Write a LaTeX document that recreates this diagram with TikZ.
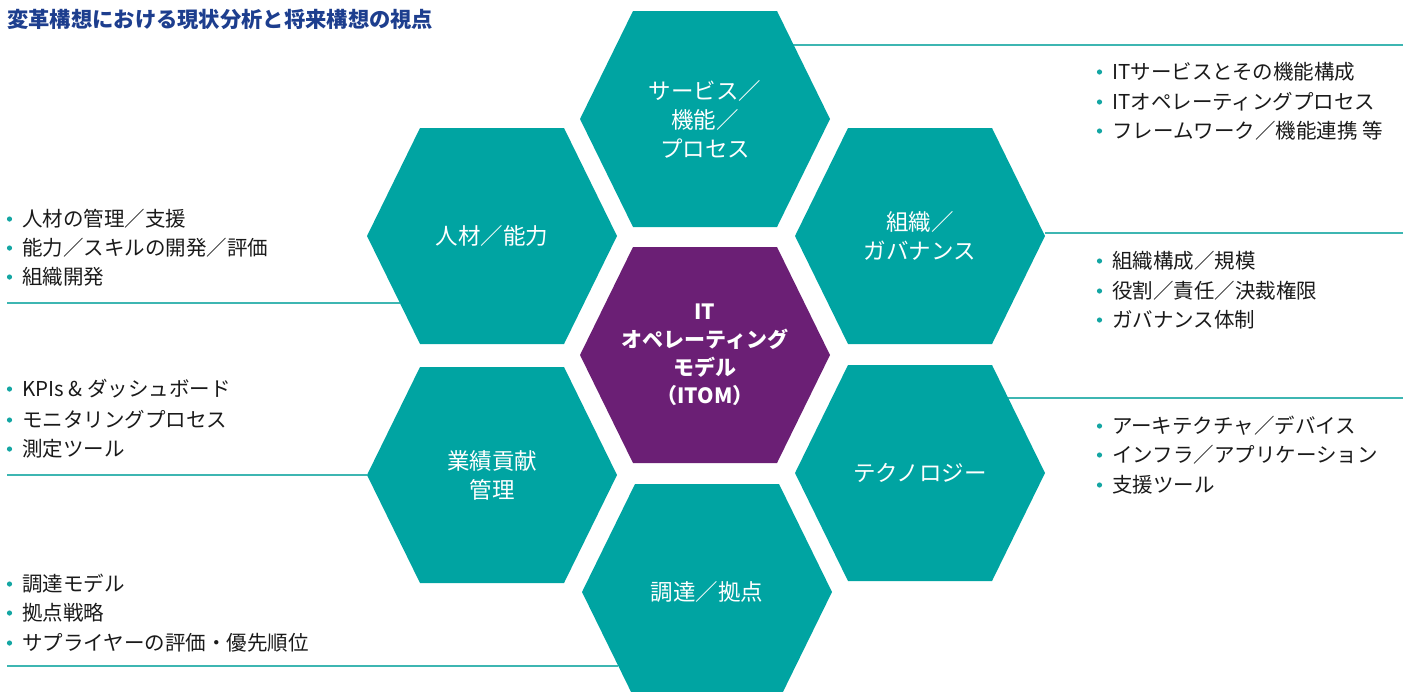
\documentclass[tikz,border=0pt]{standalone}
\usepackage{fontspec}
\setmainfont{Noto Sans CJK JP}
\definecolor{hexteal}{HTML}{00A4A2}
\definecolor{hexpurple}{HTML}{6B1F75}
\definecolor{linec}{HTML}{3DB6B2}
\definecolor{bul}{HTML}{14A6A3}
\definecolor{txt}{HTML}{1A1A1A}
\definecolor{titleblue}{HTML}{1D3E8E}
\newcommand\hexshape[3]{\fill[#3] (#1-125,#2) -- (#1-72,#2-108) -- (#1+72,#2-108) -- (#1+125,#2) -- (#1+72,#2+108) -- (#1-72,#2+108) -- cycle;}
\newcommand\listentry[4]{\fill[bulletdot] (#2-12.5,#3) circle[radius=2.6pt]; \node[itemtext] (#1) at (#2,#3+7.6) {#4};}
\tikzset{
  hexlabel/.style={text=white, align=center, inner sep=0pt, font=\fontsize{22.5}{29}\selectfont},
  itomlabel/.style={text=white, align=center, inner sep=0pt, font=\bfseries\fontsize{21}{28}\selectfont},
  itemtext/.style={anchor=base west, inner sep=0pt, text=txt, font=\fontsize{20.5}{24}\selectfont},
  bulletdot/.style={fill=bul},
  leader/.style={draw=linec, line width=1.3pt},
}
\begin{document}
\begin{tikzpicture}[x=1pt,y=-1pt]
\useasboundingbox (0,0) rectangle (1407,691);
\clip (0,0) rectangle (1407,691);
% title
\node[anchor=base west, inner sep=0pt, text=titleblue, font=\bfseries\fontsize{21.3}{24}\selectfont] (title) at (7,27) {変革構想における現状分析と将来構想の視点};
% leader line end points
\coordinate (svcA) at (793,45);   \coordinate (svcB) at (1403,45);
\coordinate (orgA) at (1045,233); \coordinate (orgB) at (1403,233);
\coordinate (tecA) at (1008,398); \coordinate (tecB) at (1403,398);
\coordinate (hrA) at (400,303);   \coordinate (hrB) at (7,303);
\coordinate (perA) at (367,475);  \coordinate (perB) at (7,475);
\coordinate (proA) at (618,666);  \coordinate (proB) at (7,666);
\draw[leader] (svcA) -- (svcB);
\draw[leader] (orgA) -- (orgB);
\draw[leader] (tecA) -- (tecB);
\draw[leader] (hrA) -- (hrB);
\draw[leader] (perA) -- (perB);
\draw[leader] (proA) -- (proB);
% hexagons
\hexshape{705}{119}{hexteal}
\hexshape{492}{236}{hexteal}
\hexshape{920}{236}{hexteal}
\hexshape{705}{355}{hexpurple}
\hexshape{492}{475}{hexteal}
\hexshape{920}{473}{hexteal}
\hexshape{707}{592}{hexteal}
% hexagon labels
\node[hexlabel] (hsvc) at (705,119) {サービス／\\機能／\\プロセス};
\node[hexlabel] (hhr) at (492,236) {人材／能力};
\node[hexlabel] (horg) at (920,236) {組織／\\ガバナンス};
\node[itomlabel] (hitom) at (705,355) {IT\\オペレーティング\\モデル\\（ITOM）};
\node[hexlabel] (hperf) at (492,475) {業績貢献\\管理};
\node[hexlabel] (htech) at (920,473) {テクノロジー};
\node[hexlabel] (hproc) at (707,592) {調達／拠点};
% lists right
\listentry{s1}{1112}{72}{ITサービスとその機能構成}
\listentry{s2}{1112}{102}{ITオペレーティングプロセス}
\listentry{s3}{1112}{131}{フレームワーク／機能連携 等}
\listentry{o1}{1112}{261}{組織構成／規模}
\listentry{o2}{1112}{291}{役割／責任／決裁権限}
\listentry{o3}{1112}{320}{ガバナンス体制}
\listentry{t1}{1112}{426}{アーキテクチャ／デバイス}
\listentry{t2}{1112}{455}{インフラ／アプリケーション}
\listentry{t3}{1112}{485}{支援ツール}
% lists left
\listentry{h1}{22}{219}{人材の管理／支援}
\listentry{h2}{22}{248}{能力／スキルの開発／評価}
\listentry{h3}{22}{277}{組織開発}
\listentry{p1}{22}{389}{KPIs \& ダッシュボード}
\listentry{p2}{22}{420}{モニタリングプロセス}
\listentry{p3}{22}{449}{測定ツール}
\listentry{r1}{22}{584}{調達モデル}
\listentry{r2}{22}{613}{拠点戦略}
\listentry{r3}{22}{643}{サプライヤーの評価・優先順位}
\end{tikzpicture}
\end{document}
